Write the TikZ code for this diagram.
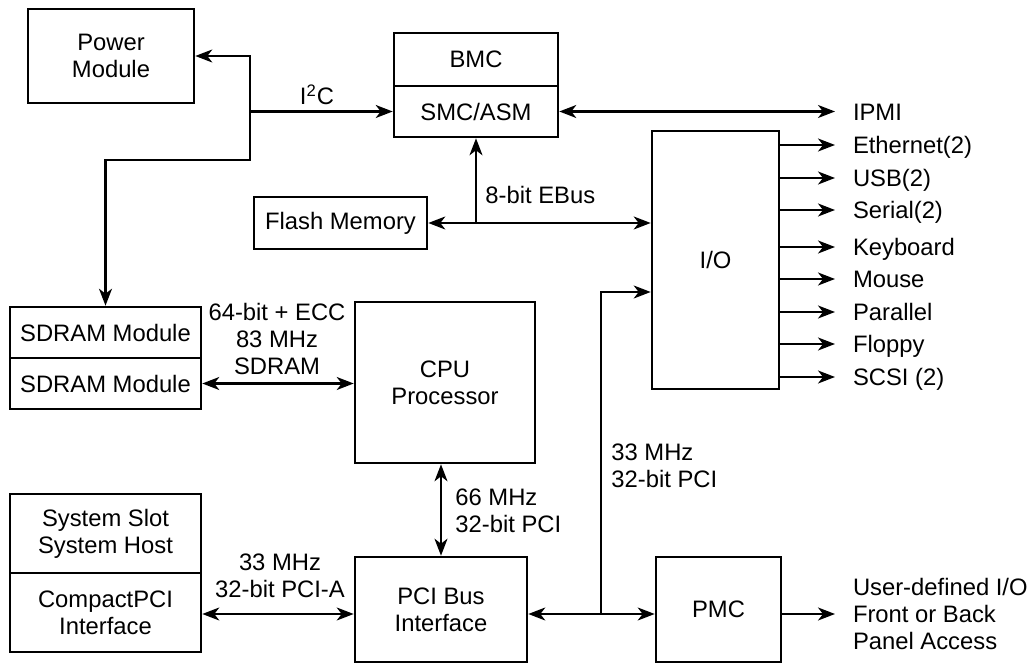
\documentclass[tikz,border=0pt]{standalone}
\usepackage{fontspec}
\setmainfont{Liberation Sans}
\usetikzlibrary{arrows.meta,calc}

\begin{document}
\begin{tikzpicture}[x=0.5pt, y=-0.5pt, >={Stealth[length=8.5pt,width=6.5pt,inset=2.5pt]},
  font=\fontsize{11.9}{13.4}\selectfont,
  box/.style={draw, line width=1.3pt, align=center, inner sep=0pt},
  link/.style={line width=1.05pt},
  port/.style={anchor=west, inner sep=0pt, outer xsep=9pt, text height=8.5pt, text depth=0pt},
  note/.style={align=center, inner sep=0pt}]
\useasboundingbox (0,0) rectangle (1030,663);
% blocks
\node[box, minimum width=83pt, minimum height=47pt] (power) at (111,56) {Power\\Module};
\node[box, minimum width=82pt, minimum height=26.5pt] (bmc) at (476,59.5) {BMC};
\node[box, minimum width=82pt, minimum height=25.5pt] (smc) at (476,111.5) {SMC/ASM};
\node[box, minimum width=86.5pt, minimum height=26pt] (flash) at (340.5,223) {Flash Memory};
\node[box, minimum width=63.5pt, minimum height=129pt] (io) at (715.5,260) {I/O};
\node[box, minimum width=95.5pt, minimum height=25.5pt] (sdram1) at (105.5,332.5) {SDRAM Module};
\node[box, minimum width=95.5pt, minimum height=25.5pt] (sdram2) at (105.5,383.5) {SDRAM Module};
\node[box, minimum width=90pt, minimum height=80.5pt] (cpu) at (445,382.5) {CPU\\Processor};
\node[box, minimum width=95.5pt, minimum height=39.5pt] (slot) at (105.5,533.5) {System Slot\\System Host};
\node[box, minimum width=95.5pt, minimum height=39.5pt] (cpci) at (105.5,612.5) {CompactPCI\\Interface};
\node[box, minimum width=86pt, minimum height=52.5pt] (pci) at (441,609.5) {PCI Bus\\Interface};
\node[box, minimum width=62.5pt, minimum height=52.5pt] (pmc) at (718.5,609.5) {PMC};

% I2C bus
\coordinate (ibus) at (250,160);
\draw[link,<->] (power.east) -| (ibus) -| (sdram1.north);
\draw[link,->] (ibus |- smc.west) -- (smc.west);
\node[note, anchor=base] (i2c) at (317,105) {I\textsuperscript{2}C};

% EBus
\coordinate (ebus) at (smc.south |- flash.east);
\draw[link,<->] (flash.east) -- (flash.east -| io.west);
\draw[link,->] (ebus) -- (smc.south);
\node[note, anchor=west] (ebuslbl) at (485,195) {8-bit EBus};

% IPMI and I/O ports
\node[port] (ipmi) at (835,112) {IPMI};
\draw[link,<->] (smc.east) -- (smc.east -| ipmi.west);
\foreach \txt/\y [count=\i] in {Ethernet(2)/145, USB(2)/178, Serial(2)/210, Keyboard/247,
    Mouse/279, Parallel/312, Floppy/344, SCSI (2)/377} {
  \node[port] (out\i) at (835,\y) {\txt};
  \draw[link,->] (io.east |- out\i.west) -- (out\i.west);
}

% memory and CPU
\draw[link,<->] (sdram2.east) -- (sdram2.east -| cpu.west);
\node[note] (sdramlbl) at (277,339) {64-bit + ECC\\83 MHz\\SDRAM};
\draw[link,<->] (pci.north |- cpu.south) -- (pci.north);
\node[note, anchor=west, align=left] (cpulbl) at (455,511) {66 MHz\\32-bit PCI};

% PCI
\coordinate (pcitap) at (601,614);
\draw[link,<->] (cpci.east |- pcitap) -- (pci.west |- pcitap);
\node[note] (slotlbl) at (280,576) {33 MHz\\32-bit PCI-A};
\draw[link,<->] (pci.east |- pcitap) -- (pmc.west |- pcitap);
\draw[link,->] (pcitap) |- ([yshift=-16pt]io.west);
\node[note, anchor=west, align=left] (pmclbl) at (611,466) {33 MHz\\32-bit PCI};
\node[anchor=west, inner sep=0pt, outer xsep=9pt, align=left] (user) at (835,614)
  {User-defined I/O\\Front or Back\\Panel Access};
\draw[link,->] (pmc.east |- pcitap) -- (user.west);
\end{tikzpicture}
\end{document}
